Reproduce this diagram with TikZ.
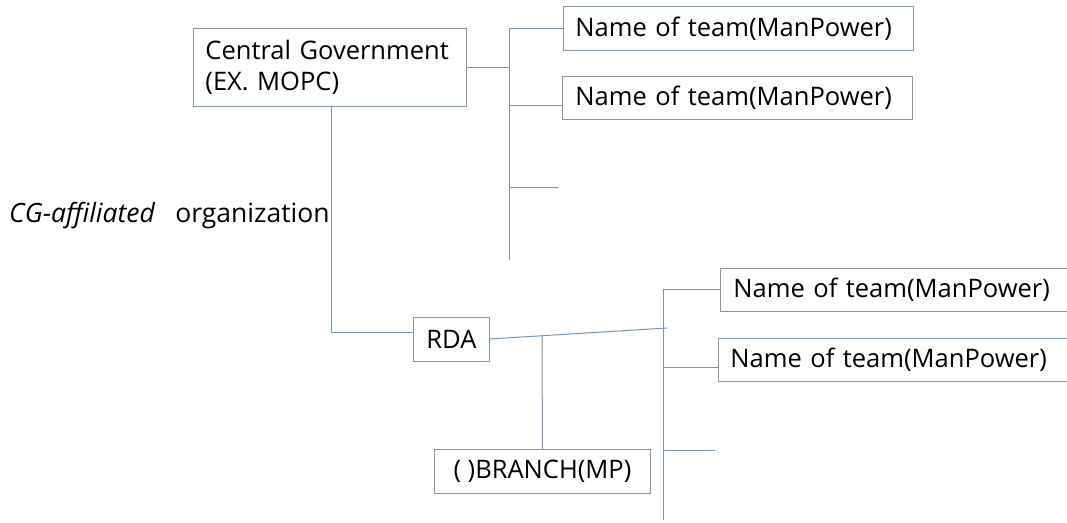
\documentclass[tikz,border=0pt]{standalone}
\usepackage{fontspec}
\setmainfont{Open Sans}
\begin{document}
\begin{tikzpicture}[x=1pt,y=-1pt,
  box/.style={draw=boxc, line width=0.9pt, fill=white, anchor=north west, inner sep=0pt, font=\fontsize{25.5}{31}\selectfont},
  conn/.style={draw=linec, line width=1pt}]
\definecolor{boxc}{RGB}{135,150,165}
\definecolor{linec}{RGB}{115,150,180}
\useasboundingbox[fill=white] (0,0) rectangle (1067,522);
% boxes
\node[box, minimum width=273pt, minimum height=78pt, text width=249pt, align=left] (cg) at (193,28) {Central Government\\(EX. MOPC)};
\node[box, minimum width=350pt, minimum height=44pt, text width=326pt, align=left] (t1) at (563,6) {Name of team(ManPower)};
\node[box, minimum width=350pt, minimum height=43pt, text width=324pt, align=left] (t2) at (562,76) {Name of team(ManPower)};
\node[box, minimum width=76pt, minimum height=44pt] (rda) at (413,317) {RDA};
\node[box, minimum width=216pt, minimum height=44pt] (br) at (434,449) {( )BRANCH(MP)};
\node[box, minimum width=370pt, minimum height=43pt, text width=344pt, align=left] (t3) at (720,268) {Name of team(ManPower)};
\node[box, minimum width=370pt, minimum height=43pt, text width=346pt, align=left] (t4) at (718,338) {Name of team(ManPower)};
\node[anchor=base west, inner sep=0pt, font=\fontsize{26.5}{30}\selectfont] (lbl) at (9,222) {\textit{CG-affiliated}\hspace{20pt}organization};
% coordinates
\coordinate (b1t) at (509,28);
\coordinate (b1b) at (509,260);
\coordinate (b1m) at (509,67);
\coordinate (b1a) at (509,105);
\coordinate (s1a) at (509,187);
\coordinate (s1b) at (558,187);
\coordinate (cgb) at (331,106);
\coordinate (crn) at (331,332);
\coordinate (rdl) at (413,332);
\coordinate (rdr) at (489,339);
\coordinate (b2j) at (667,328);
\coordinate (brj) at (542,335.7);
\coordinate (b2t) at (663,289);
\coordinate (b2b) at (663,520);
\coordinate (b2c) at (663,367);
\coordinate (s2a) at (663,450);
\coordinate (s2b) at (715,450);
% connectors
\draw[conn] (cg.east |- b1m) -- (b1m);
\draw[conn] (b1t) -- (b1b);
\draw[conn] (b1t) -- (t1.west |- b1t);
\draw[conn] (b1a) -- (t2.west |- b1a);
\draw[conn] (s1a) -- (s1b);
\draw[conn] (cgb) -- (crn) -- (rdl);
\draw[conn] (rdr) -- (b2j);
\draw[conn] (brj) -- (br.north |- 0,449);
\draw[conn] (b2t) -- (b2b);
\draw[conn] (b2t) -- (t3.west |- b2t);
\draw[conn] (b2c) -- (t4.west |- b2c);
\draw[conn] (s2a) -- (s2b);
\end{tikzpicture}
\end{document}
